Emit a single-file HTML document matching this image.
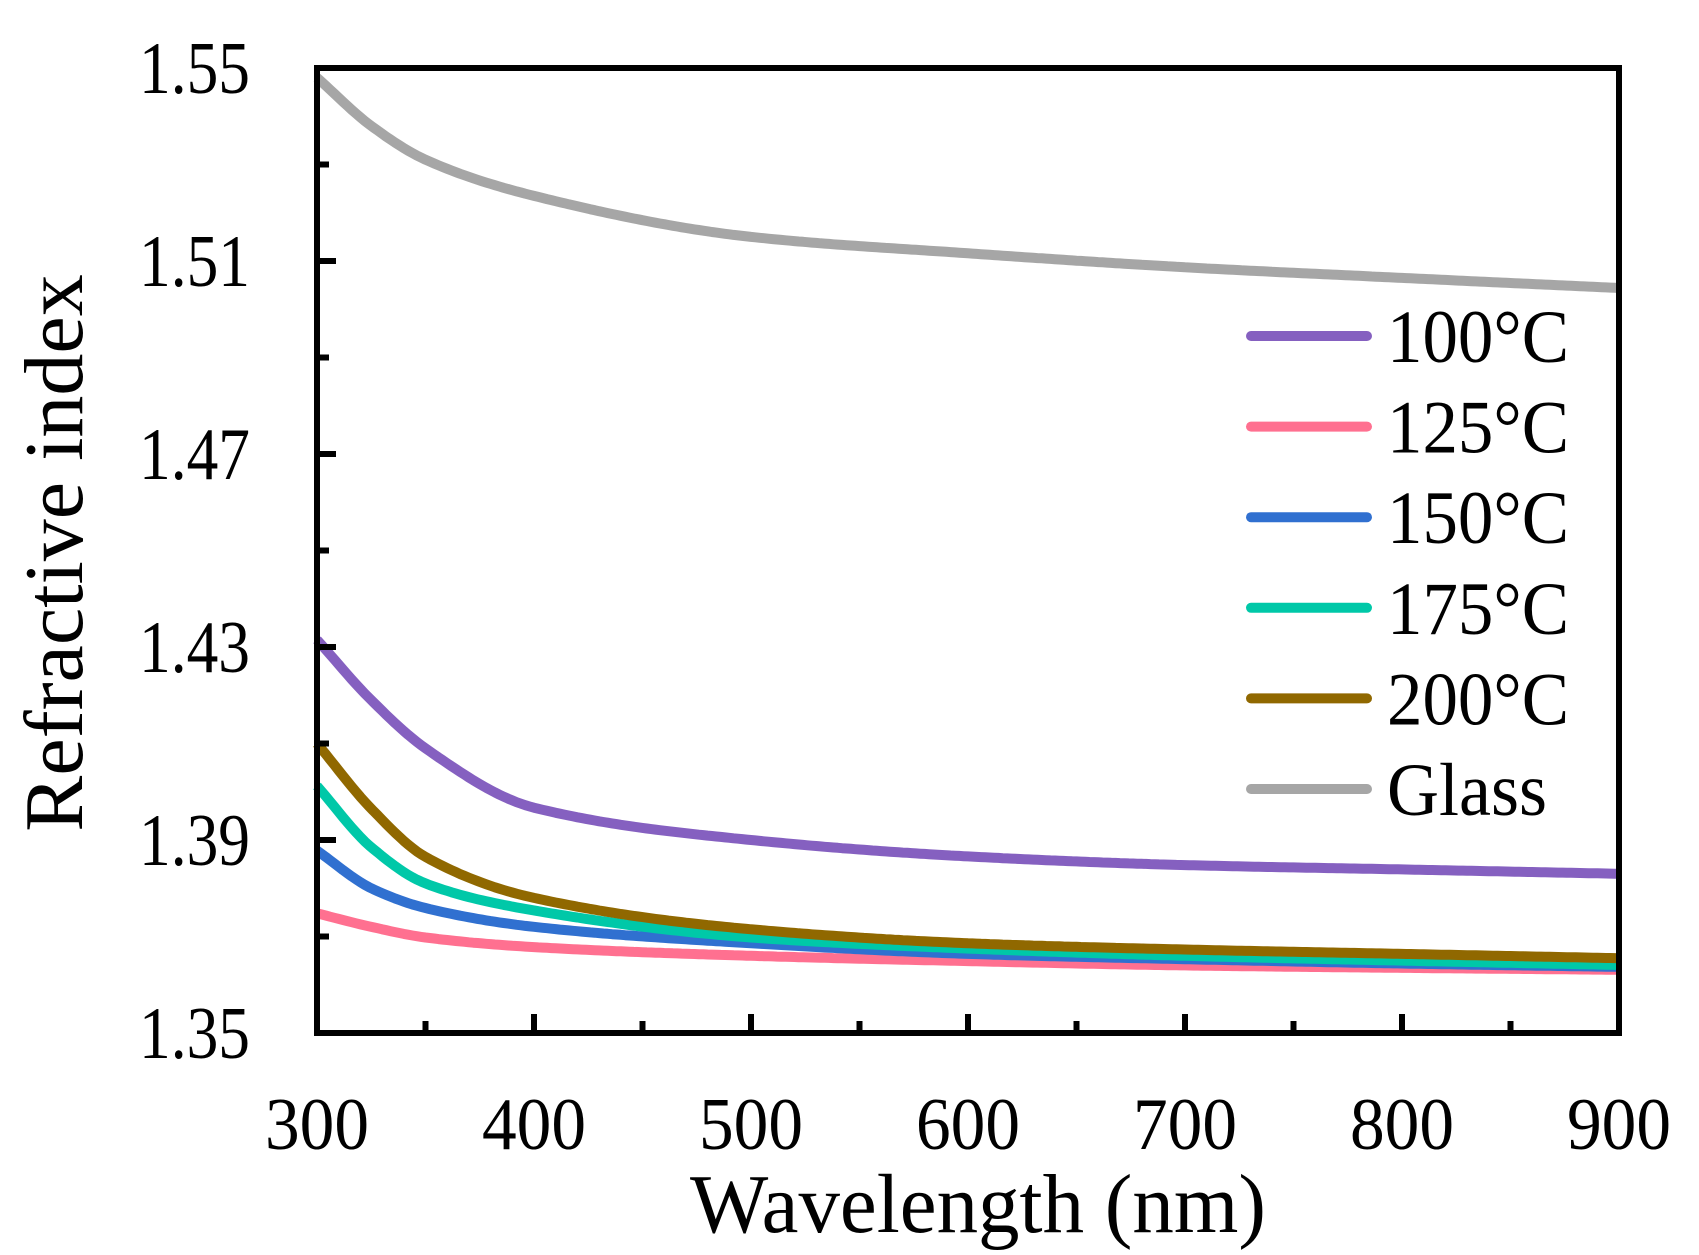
<!DOCTYPE html>
<html><head><meta charset="utf-8"><style>
html,body{margin:0;padding:0;background:#fff;}
svg{display:block;font-family:"Liberation Serif",serif;}
</style></head><body>
<svg id="s" width="1699" height="1255" viewBox="0 0 1699 1255" xmlns="http://www.w3.org/2000/svg">
<rect width="1699" height="1255" fill="#fff"/>
<g id="curves" fill="none" stroke-width="10" stroke-linejoin="round"></g>
<g id="ticks" stroke="#000" stroke-width="6"></g>
<rect x="317" y="68" width="1302" height="965" fill="none" stroke="#000" stroke-width="6"/>
<g font-size="74" text-anchor="end">
<text x="250" y="93" textLength="111" lengthAdjust="spacingAndGlyphs">1.55</text>
<text x="250" y="286" textLength="111" lengthAdjust="spacingAndGlyphs">1.51</text>
<text x="250" y="479" textLength="111" lengthAdjust="spacingAndGlyphs">1.47</text>
<text x="250" y="672" textLength="111" lengthAdjust="spacingAndGlyphs">1.43</text>
<text x="250" y="865" textLength="111" lengthAdjust="spacingAndGlyphs">1.39</text>
<text x="250" y="1058" textLength="111" lengthAdjust="spacingAndGlyphs">1.35</text>
</g>
<g font-size="74" text-anchor="middle">
<text x="317" y="1149" textLength="104" lengthAdjust="spacingAndGlyphs">300</text>
<text x="534" y="1149" textLength="104" lengthAdjust="spacingAndGlyphs">400</text>
<text x="751" y="1149" textLength="104" lengthAdjust="spacingAndGlyphs">500</text>
<text x="968" y="1149" textLength="104" lengthAdjust="spacingAndGlyphs">600</text>
<text x="1185" y="1149" textLength="104" lengthAdjust="spacingAndGlyphs">700</text>
<text x="1402" y="1149" textLength="104" lengthAdjust="spacingAndGlyphs">800</text>
<text x="1619" y="1149" textLength="104" lengthAdjust="spacingAndGlyphs">900</text>
</g>
<text x="978" y="1232" font-size="84" text-anchor="middle" textLength="576" lengthAdjust="spacingAndGlyphs">Wavelength (nm)</text>
<text transform="translate(82,553) rotate(-90)" font-size="84" text-anchor="middle">Refractive index</text>
<g id="legend" font-size="75"></g>
</svg>
<script>
var X=function(w){return 317+(w-300)*1302/600;};
var Y=function(n){return 68+(1.55-n)*965/0.2;};
var ws=[300,325,350,400,500,600,700,800,900];
var series=[
["#a6a6a6",[1.548,1.538,1.531,1.5235,1.515,1.5116,1.5087,1.5065,1.5044],"Glass"],
["#8560c0",[1.4315,1.419,1.409,1.3967,1.390,1.3866,1.3848,1.3839,1.383],"100°C"],
["#ff7090",[1.3748,1.372,1.3698,1.3678,1.366,1.3649,1.364,1.3635,1.3631],"125°C"],
["#3070d0",[1.3878,1.380,1.3759,1.372,1.3686,1.3664,1.3653,1.3644,1.3637],"150°C"],
["#00c8a8",[1.4012,1.3885,1.381,1.3754,1.3698,1.3675,1.366,1.365,1.3641],"175°C"],
["#906800",[1.410,1.3965,1.3865,1.378,1.3715,1.3686,1.3673,1.3664,1.3655],"200°C"]];
var ns="http://www.w3.org/2000/svg";
function interp(xs,ys){
 var n=xs.length,d=[],m=[];
 for(var i=0;i<n-1;i++)d.push((ys[i+1]-ys[i])/(xs[i+1]-xs[i]));
 m[0]=d[0];m[n-1]=d[n-2];
 for(i=1;i<n-1;i++){ if(d[i-1]*d[i]<=0)m[i]=0; else {var h0=xs[i]-xs[i-1],h1=xs[i+1]-xs[i];var w1=2*h1+h0,w2=h1+2*h0;m[i]=(w1+w2)/(w1/d[i-1]+w2/d[i]);}}
 return function(x){var k=0;while(k<n-2&&x>xs[k+1])k++;var h=xs[k+1]-xs[k],t=(x-xs[k])/h;
  var h00=2*t*t*t-3*t*t+1,h10=t*t*t-2*t*t+t,h01=-2*t*t*t+3*t*t,h11=t*t*t-t*t;
  return h00*ys[k]+h10*h*m[k]+h01*ys[k+1]+h11*h*m[k+1];};
}
var g=document.getElementById("curves");
var order=[0,2,3,4,5,1];
order.forEach(function(k){var s=series[k];var f=interp(ws,s[1]);var d="";
 for(var w=300;w<=900;w+=2){d+=(w==300?"M":"L")+X(w).toFixed(1)+","+Y(f(w)).toFixed(1);}
 var p=document.createElementNS(ns,"path");p.setAttribute("d",d);p.setAttribute("stroke",s[0]);g.appendChild(p);});
var t=document.getElementById("ticks");
function ln(x1,y1,x2,y2){var l=document.createElementNS(ns,"line");l.setAttribute("x1",x1);l.setAttribute("y1",y1);l.setAttribute("x2",x2);l.setAttribute("y2",y2);t.appendChild(l);}
for(var i=1;i<12;i++){var x=317+i*1302/12;ln(x,1033,x,1033-(i%2?12:19));}
for(var j=1;j<10;j++){var y=68+j*965/10;ln(317,y,317+(j%2?12:19),y);}
var lg=document.getElementById("legend");
var lo=[1,2,3,4,5,0];
lo.forEach(function(k,i){var y=336+i*90.6;var s=series[k];
var l=document.createElementNS(ns,"line");l.setAttribute("x1",1251);l.setAttribute("x2",1367);l.setAttribute("y1",y);l.setAttribute("y2",y);l.setAttribute("stroke",s[0]);l.setAttribute("stroke-width",10);l.setAttribute("stroke-linecap","round");lg.appendChild(l);
var tx=document.createElementNS(ns,"text");tx.setAttribute("x",1387);tx.setAttribute("y",y+26);tx.setAttribute("textLength",k==0?160:182);tx.setAttribute("lengthAdjust","spacingAndGlyphs");tx.textContent=s[2];lg.appendChild(tx);});
</script>
</body></html>
